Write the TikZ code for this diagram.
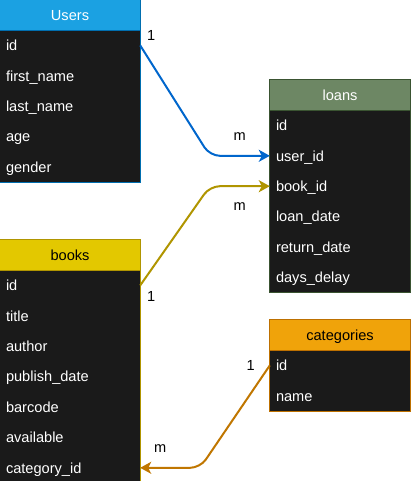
\documentclass[tikz,border=0pt]{standalone}
\usepackage{fontspec}
\setmainfont{Liberation Sans}
\usepackage{xcolor}
\usetikzlibrary{positioning,arrows.meta,backgrounds}

\definecolor{usersfill}{HTML}{1BA1E2}
\definecolor{usersline}{HTML}{006EAF}
\definecolor{loansfill}{HTML}{6D8764}
\definecolor{loansline}{HTML}{3A5431}
\definecolor{booksfill}{HTML}{E3C800}
\definecolor{booksline}{HTML}{B09500}
\definecolor{catfill}{HTML}{F0A30A}
\definecolor{catline}{HTML}{BD7000}
\definecolor{rowfill}{HTML}{1A1A1A}
\definecolor{linkblue}{HTML}{0066CC}
\definecolor{linkorange}{HTML}{C07600}

\begin{document}
\begin{tikzpicture}[x=1pt, y=1pt, font=\fontsize{14.6}{16}\selectfont,
  head/.style={rectangle, minimum width=140pt, minimum height=30pt, inner sep=0pt, text centered, text height=12pt, text depth=1.5pt},
  field/.style={rectangle, minimum height=30pt, text width=128pt, inner xsep=6pt, inner ysep=0pt, align=left, text=white, text height=12pt, text depth=1.5pt},
  link/.style={line width=2pt, rounded corners=10pt, -{Stealth[length=11pt,width=12pt,inset=3pt]}},
  card/.style={text=black, inner sep=1pt}]
\useasboundingbox (0,0) rectangle (411,-481);

% Users
\node (users) [head, fill=usersfill, text=white] at (70,-15) {Users};
\node (uid) [field, below=0pt of users] {id};
\node (ufirst) [field, below=0pt of uid] {first\_name};
\node (ulast) [field, below=0pt of ufirst] {last\_name};
\node (uage) [field, below=0pt of ulast] {age};
\node (ugender) [field, below=0pt of uage] {gender};

% loans
\node (loans) [head, fill=loansfill, text=white] at (340,-95) {loans};
\node (lid) [field, below=0pt of loans] {id};
\node (luser) [field, below=0pt of lid] {user\_id};
\node (lbook) [field, below=0pt of luser] {book\_id};
\node (lloan) [field, below=0pt of lbook] {loan\_date};
\node (lreturn) [field, below=0pt of lloan] {return\_date};
\node (ldelay) [field, below=0pt of lreturn] {days\_delay};

% books
\node (books) [head, fill=booksfill, text=black] at (70,-255) {books};
\node (bid) [field, below=0pt of books] {id};
\node (btitle) [field, below=0pt of bid] {title};
\node (bauthor) [field, below=0pt of btitle] {author};
\node (bpublish) [field, below=0pt of bauthor] {publish\_date};
\node (bbarcode) [field, below=0pt of bpublish] {barcode};
\node (bavailable) [field, below=0pt of bbarcode] {available};
\node (bcategory) [field, below=0pt of bavailable] {category\_id};

% categories
\node (categories) [head, fill=catfill, text=black] at (340,-335) {categories};
\node (cid) [field, below=0pt of categories] {id};
\node (cname) [field, below=0pt of cid] {name};

% table bodies and outlines
\begin{scope}[on background layer]
\fill[rowfill] (users.south west) rectangle (ugender.south east);
\fill[rowfill] (loans.south west) rectangle (ldelay.south east);
\fill[rowfill] (books.south west) rectangle (bcategory.south east);
\fill[rowfill] (categories.south west) rectangle (cname.south east);
\end{scope}
\draw[usersline, line width=1pt] (users.north west) rectangle (ugender.south east) (users.south west) -- (users.south east);
\draw[loansline, line width=1pt] (loans.north west) rectangle (ldelay.south east) (loans.south west) -- (loans.south east);
\draw[booksline, line width=1pt] (books.north west) rectangle (bcategory.south east) (books.south west) -- (books.south east);
\draw[catline, line width=1pt] (categories.north west) rectangle (cname.south east) (categories.south west) -- (categories.south east);

% relations
\draw[link, linkblue] (uid.east) -- ([xshift=-60pt]luser.west) -- (luser.west);
\draw[link, booksline] (bid.east) -- ([xshift=-60pt]lbook.west) -- (lbook.west);
\draw[link, linkorange] (cid.west) -- ([xshift=60pt]bcategory.east) -- (bcategory.east);

\node (uone) [card] at ([xshift=11pt,yshift=10pt]uid.east) {1};
\node (lmany1) [card] at ([xshift=-30pt,yshift=19pt]luser.west) {m};
\node (lmany2) [card] at ([xshift=-30pt,yshift=-20pt]lbook.west) {m};
\node (bone) [card] at ([xshift=11pt,yshift=-11pt]bid.east) {1};
\node (cone) [card] at ([xshift=-19pt]cid.west) {1};
\node (bmany) [card] at ([xshift=20pt,yshift=19pt]bcategory.east) {m};

\end{tikzpicture}
\end{document}
